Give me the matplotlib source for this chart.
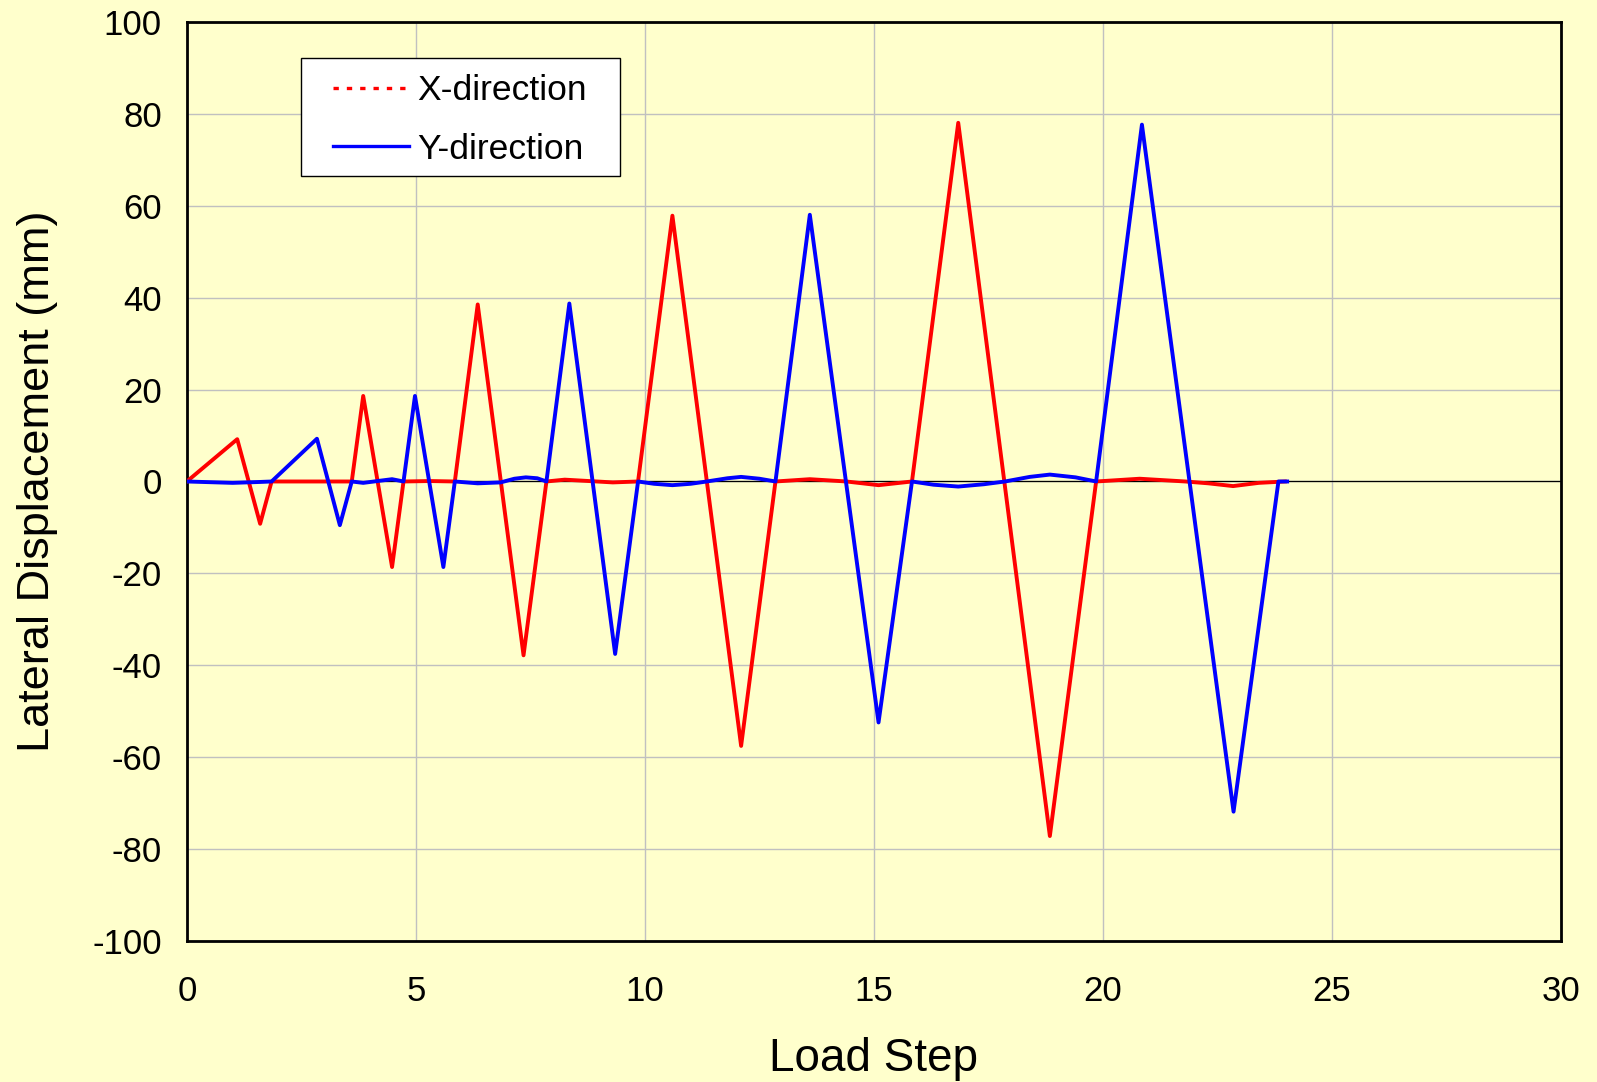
import matplotlib
matplotlib.use('Agg')
import matplotlib.pyplot as plt
from matplotlib.lines import Line2D
from matplotlib.patches import Rectangle

plt.rcParams['font.family'] = ['Liberation Sans', 'DejaVu Sans']
plt.rcParams['axes.unicode_minus'] = False

# X-direction (red) load history
x_dir_step = [0, 1.1, 1.6, 1.85, 2.85, 3.35, 3.6, 3.85, 4.48, 4.73, 5.3, 5.85,
              6.35, 7.35, 7.85, 8.25, 9.3, 9.85, 10.6, 12.1, 12.85, 13.6, 14.4,
              15.1, 15.83, 16.84, 18.84, 19.85, 20.8, 21.8, 22.3, 22.84, 23.4, 23.97]
x_dir_disp = [0, 9.2, -9.2, 0, 0, 0, 0, 18.6, -18.6, 0, 0.1, 0,
              38.5, -37.8, 0, 0.4, -0.2, 0, 57.8, -57.5, 0, 0.5, 0,
              -0.8, 0, 78.0, -77.1, 0, 0.6, 0, -0.4, -1.0, -0.3, 0]

# Y-direction (blue) load history
y_dir_step = [0, 1.0, 1.6, 1.85, 2.84, 3.34, 3.6, 3.85, 4.48, 4.73, 4.98, 5.6,
              5.85, 6.35, 6.85, 7.15, 7.4, 7.65, 7.85, 8.35, 9.35, 9.85, 10.2,
              10.6, 11.0, 11.35, 11.8, 12.1, 12.5, 12.85, 13.6, 15.1, 15.83,
              16.3, 16.84, 17.4, 17.86, 18.4, 18.84, 19.4, 19.85, 20.85, 22.85,
              23.83, 24.02]
y_dir_disp = [0, -0.3, -0.1, 0, 9.3, -9.5, 0, -0.3, 0.5, 0, 18.6, -18.6,
              0, -0.4, -0.2, 0.6, 0.9, 0.7, 0, 38.7, -37.5, 0, -0.5,
              -0.8, -0.5, 0, 0.7, 1.0, 0.6, 0, 58.0, -52.4, 0,
              -0.7, -1.1, -0.6, 0, 1.0, 1.5, 0.9, 0, 77.6, -71.8,
              0, 0]

x_ticks = [0, 5, 10, 15, 20, 25, 30]
y_ticks = [-100, -80, -60, -40, -20, 0, 20, 40, 60, 80, 100]
series_labels = ['X-direction', 'Y-direction']

bg = '#FFFFCC'
fig = plt.figure(figsize=(15.97, 10.82), dpi=100, facecolor=bg)
ax = fig.add_axes([0.117, 0.130, 0.8605, 0.850], facecolor=bg)

ax.grid(True, color='#C0C0C0', linewidth=1.0)
ax.set_axisbelow(True)
ax.axhline(0, color='black', linewidth=0.9, zorder=2)

ax.plot(x_dir_step, x_dir_disp, color='#FF0000', linewidth=2.8, zorder=3)
ax.plot(y_dir_step, y_dir_disp, color='#0000FF', linewidth=2.8, zorder=4)

ax.set_xlim(0, 30)
ax.set_ylim(-100, 100)
ax.set_xticks(x_ticks)
ax.set_yticks(y_ticks)
ax.tick_params(axis='both', length=0, labelsize=25)
ax.tick_params(axis='x', pad=24)
ax.tick_params(axis='y', pad=18)
for sp in ax.spines.values():
    sp.set_linewidth(2.0)
    sp.set_color('black')

ax.set_xlabel('Load Step', fontsize=33)
ax.set_ylabel('Lateral Displacement (mm)', fontsize=32.5)
ax.xaxis.set_label_coords(0.5, -0.104)
ax.yaxis.set_label_coords(-0.094, 0.5)

# legend box drawn by hand so the padding matches
ax.add_patch(Rectangle((0.083, 0.832), 0.232, 0.128, transform=ax.transAxes,
                       facecolor='white', edgecolor='black', linewidth=1.0, zorder=5))
handles = [Line2D([], [], color='#FF0000', linewidth=2.4, dashes=(1.6, 2.4)),
           Line2D([], [], color='#0000FF', linewidth=2.4)]
leg = ax.legend(handles, series_labels, loc='upper left', bbox_to_anchor=(0.106, 0.943),
                frameon=False, fontsize=25.5, handlelength=2.15, handletextpad=0.25,
                labelspacing=0.72, borderpad=0, borderaxespad=0)
leg.set_zorder(6)

plt.savefig('out.png', dpi=100, facecolor=bg)
